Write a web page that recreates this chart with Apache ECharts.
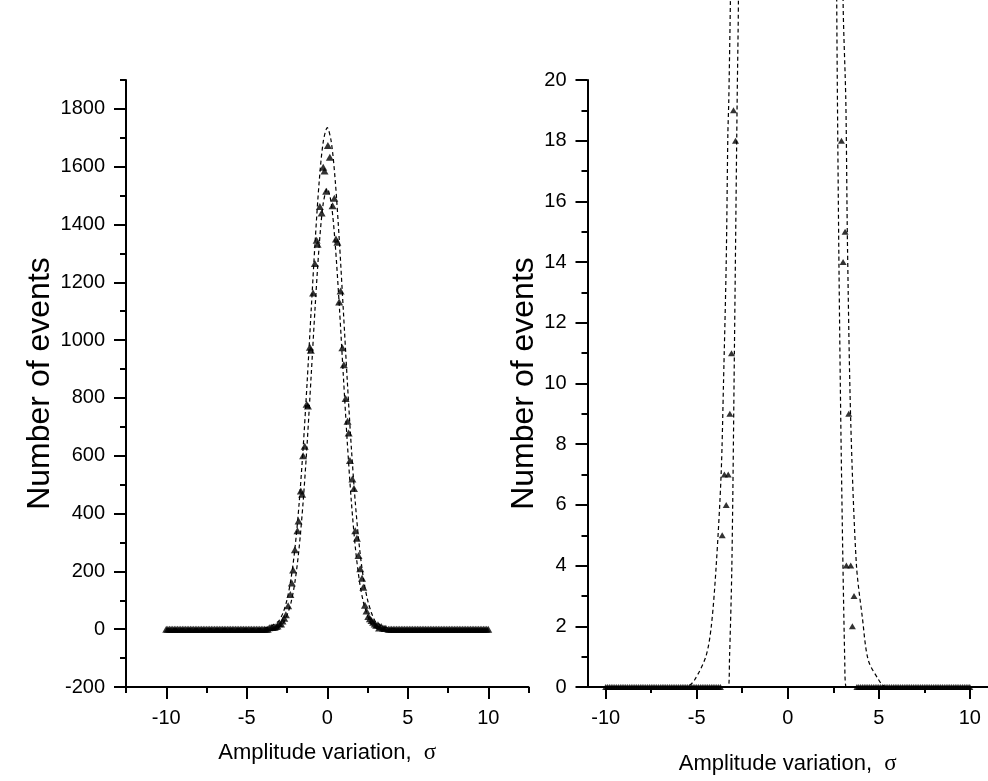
<!DOCTYPE html>
<html>
<head>
<meta charset="utf-8">
<script src="https://cdn.jsdelivr.net/npm/echarts@6/dist/echarts.min.js"></script>
<style>
html,body{margin:0;padding:0;background:#fff;}
#chart{width:988px;height:781px;}
</style>
</head>
<body>
<div id="chart"></div>
<script>
// ---- data ----
// zero-count bins on the left side
const leftTailX = [-10,-9.9,-9.8,-9.7,-9.6,-9.5,-9.4,-9.3,-9.2,-9.1,-9,-8.9,-8.8,-8.7,-8.6,-8.5,-8.4,-8.3,-8.2,-8.1,-8,-7.9,-7.8,-7.7,-7.6,-7.5,-7.4,-7.3,-7.2,-7.1,-7,-6.9,-6.8,-6.7,-6.6,-6.5,-6.4,-6.3,-6.2,-6.1,-6,-5.9,-5.8,-5.7,-5.6,-5.5,-5.4,-5.3,-5.2,-5.1,-5,-4.9,-4.8,-4.7,-4.6,-4.5,-4.4,-4.3,-4.2,-4.1,-4,-3.9,-3.8,-3.7];
const leftTailY = [0,0,0,0,0,0,0,0,0,0,0,0,0,0,0,0,0,0,0,0,0,0,0,0,0,0,0,0,0,0,0,0,0,0,0,0,0,0,0,0,0,0,0,0,0,0,0,0,0,0,0,0,0,0,0,0,0,0,0,0,0,0,0,0];
// central bins
const peakX = [-3.6,-3.48,-3.38,-3.27,-3.18,-3.09,-2.98,-2.87,-2.78,-2.67,-2.57,-2.43,-2.29,-2.2,-2.12,-2.01,-1.85,-1.78,-1.64,-1.56,-1.5,-1.4,-1.28,-1.2,-1.08,-1.02,-0.88,-0.77,-0.66,-0.6,-0.46,-0.35,-0.25,-0.17,-0.07,0.04,0.16,0.33,0.44,0.54,0.63,0.74,0.83,0.94,1.03,1.14,1.26,1.33,1.41,1.56,1.66,1.74,1.84,1.94,2.05,2.16,2.24,2.34,2.44,2.55,2.65,2.75,2.85,2.95,3.04,3.15,3.22,3.35,3.46,3.55,3.64];
const peakY = [5,7,6,7,9,11,19,18,28,38,50,81,120,160,205,275,341,374,478,467,600,633,778,772,975,965,1163,1265,1346,1332,1462,1440,1598,1585,1515,1673,1633,1465,1491,1350,1339,1132,1170,974,915,798,719,679,584,520,487,341,315,255,209,176,145,83,63,44,36,30,24,18,14,15,4,9,4,2,3];
// zero-count bins on the right side
const rightTailX = [3.8,3.9,4,4.1,4.2,4.3,4.4,4.5,4.6,4.7,4.8,4.9,5,5.1,5.2,5.3,5.4,5.5,5.6,5.7,5.8,5.9,6,6.1,6.2,6.3,6.4,6.5,6.6,6.7,6.8,6.9,7,7.1,7.2,7.3,7.4,7.5,7.6,7.7,7.8,7.9,8,8.1,8.2,8.3,8.4,8.5,8.6,8.7,8.8,8.9,9,9.1,9.2,9.3,9.4,9.5,9.6,9.7,9.8,9.9,10];
const rightTailY = [0,0,0,0,0,0,0,0,0,0,0,0,0,0,0,0,0,0,0,0,0,0,0,0,0,0,0,0,0,0,0,0,0,0,0,0,0,0,0,0,0,0,0,0,0,0,0,0,0,0,0,0,0,0,0,0,0,0,0,0,0,0,0];

// fitted curves (dashed)
const outerX = [-10,-6,-5.5,-5.12,-4.5,-4.2,-3.93,-3.66,-3.53,-3.38,-3.29,-3.24,-3.15,-3.0,-2.75,-2.5,-2.25,-2.0,-1.75,-1.5,-1.25,-1.0,-0.75,-0.5,-0.25,0,0.25,0.5,0.75,1.0,1.25,1.5,1.75,2.0,2.25,2.5,2.75,2.9,3.04,3.19,3.28,3.46,3.77,4.1,4.42,5.0,5.28,5.6,10];
const outerY = [0,0,0.02,0.23,1,2,4,7,10,14,18.2,19.3,22.6,29,56,102,175,283,433,625,854,1102,1344,1549,1686,1735,1686,1549,1344,1102,854,625,433,283,175,102,56,36,22.6,19.3,14.6,8.75,4.04,2.28,0.89,0.23,0.03,0,0];
const innerX = [-10,-3.27,-3.2,-3.07,-2.93,-2.78,-2.71,-2.6,-2.5,-2.25,-2.0,-1.75,-1.5,-1.25,-1.0,-0.75,-0.5,-0.25,0,0.25,0.5,0.75,1.0,1.25,1.5,1.75,2.0,2.25,2.5,2.6,2.69,2.73,2.82,2.94,3.13,3.22,10];
const innerY = [0,0,0.93,4,11.1,19.3,22.6,36,48,92,166,280,439,642,876,1117,1328,1473,1525,1473,1328,1117,876,642,439,280,166,92,48,33,22.6,19.3,13.5,7.6,0.89,0,0];

// tick values
const leftXMajor = [-10,-5,0,5,10];
const leftXMinor = [-12.5,-7.5,-2.5,2.5,7.5,12.5];
const leftYMajor = [-200,0,200,400,600,800,1000,1200,1400,1600,1800];
const leftYMinor = [-100,100,300,500,700,900,1100,1300,1500,1700,1900];
const rightXMajor = [-10,-5,0,5,10];
const rightXMinor = [-7.5,-2.5,2.5,7.5];

// ---- build ----
const pts = [];
[[leftTailX,leftTailY],[peakX,peakY],[rightTailX,rightTailY]].forEach(([xs,ys]) => xs.forEach((x,i)=>pts.push([x,ys[i]])));
const outer = outerX.map((x,i)=>[x,outerY[i]]);
const inner = innerX.map((x,i)=>[x,innerY[i]]);

const FONT = 'Liberation Sans';
const black = '#000';
const lineSty = {color: black, width: 2};
const fmt = v => String(v);
const xLabelSty = {color: black, fontFamily: FONT, fontSize: 20, margin: 21, formatter: fmt};
const yLabelSty = {color: black, fontFamily: FONT, fontSize: 20, margin: 21, formatter: fmt};
const xNameStyle = {color: black, fontFamily: FONT, fontSize: 22,
  rich: {s: {fontFamily: 'Liberation Serif', fontSize: 23, color: black}}};
const yNameStyle = {color: black, fontFamily: FONT, fontSize: 32};
const dash = {color: black, width: 1.2, type: [4, 3]};

function majorAxis(grid, min, max, customVals, labelSty, extra) {
  return Object.assign({
    type: 'value', gridIndex: grid, min: min, max: max,
    axisLine: {show: true, onZero: false, lineStyle: lineSty},
    axisTick: {show: true, inside: false, length: 12, lineStyle: lineSty, customValues: customVals},
    axisLabel: Object.assign({customValues: customVals}, labelSty),
    splitLine: {show: false}
  }, extra);
}
function minorAxis(grid, min, max, customVals, extra) {
  return Object.assign({
    type: 'value', gridIndex: grid, min: min, max: max,
    axisLine: {show: false, onZero: false},
    axisTick: {show: true, inside: false, length: 6, lineStyle: lineSty, customValues: customVals},
    axisLabel: {show: false},
    splitLine: {show: false}
  }, extra);
}

const option = {
  animation: false,
  backgroundColor: '#fff',
  grid: [
    {left: 126, top: 80, width: 402.5, height: 607},
    {left: 587.5, top: 80, width: 402, height: 607}
  ],
  xAxis: [
    majorAxis(0, -12.5, 12.5, leftXMajor, xLabelSty, {position: 'bottom',
      name: 'Amplitude variation,  {s|σ}', nameLocation: 'middle', nameGap: 54, nameTextStyle: xNameStyle}),
    minorAxis(0, -12.5, 12.5, leftXMinor, {position: 'bottom'}),
    majorAxis(1, -11, 11, rightXMajor, xLabelSty, {position: 'bottom',
      name: 'Amplitude variation,  {s|σ}', nameLocation: 'middle', nameGap: 65, nameTextStyle: xNameStyle}),
    minorAxis(1, -11, 11, rightXMinor, {position: 'bottom'})
  ],
  yAxis: [
    majorAxis(0, -200, 1900, leftYMajor, yLabelSty, {position: 'left',
      name: 'Number of events', nameLocation: 'middle', nameGap: 70, nameTextStyle: yNameStyle}),
    minorAxis(0, -200, 1900, leftYMinor, {position: 'left'}),
    {
      type: 'value', gridIndex: 1, min: 0, max: 20, interval: 2, position: 'left',
      axisLine: {show: true, onZero: false, lineStyle: lineSty},
      axisTick: {show: true, inside: false, length: 12, lineStyle: lineSty},
      minorTick: {show: true, splitNumber: 2, length: 6, lineStyle: lineSty},
      axisLabel: yLabelSty,
      splitLine: {show: false},
      name: 'Number of events', nameLocation: 'middle', nameGap: 42, nameTextStyle: yNameStyle
    }
  ],
  series: [
    {type: 'line', xAxisIndex: 0, yAxisIndex: 0, data: outer, smooth: 0.3, showSymbol: false, symbol: 'none',
      lineStyle: dash, z: 2},
    {type: 'line', xAxisIndex: 0, yAxisIndex: 0, data: inner, smooth: 0.3, showSymbol: false, symbol: 'none',
      lineStyle: dash, z: 2},
    {type: 'scatter', xAxisIndex: 0, yAxisIndex: 0, data: pts, symbol: 'triangle', symbolSize: [8, 7],
      itemStyle: {color: black}, z: 3},
    {type: 'line', xAxisIndex: 2, yAxisIndex: 2, data: outer, smooth: 0.3, showSymbol: false, symbol: 'none', clip: false,
      lineStyle: dash, z: 2},
    {type: 'line', xAxisIndex: 2, yAxisIndex: 2, data: inner, smooth: 0.3, showSymbol: false, symbol: 'none', clip: false,
      lineStyle: dash, z: 2},
    {type: 'scatter', xAxisIndex: 2, yAxisIndex: 2, data: pts, symbol: 'triangle', symbolSize: [7, 6], clip: true,
      itemStyle: {color: black}, z: 3}
  ]
};
const chart = echarts.init(document.getElementById('chart'), null, {renderer: 'canvas'});
chart.setOption(option);
</script>
</body>
</html>
